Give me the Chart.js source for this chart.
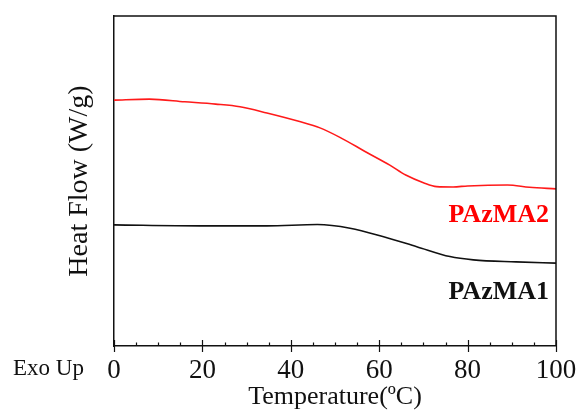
<!DOCTYPE html>
<html>
<head>
<meta charset="utf-8">
<script src="https://cdn.jsdelivr.net/npm/chart.js@4.4.1/dist/chart.umd.min.js"></script>
<style>
  html, body { margin: 0; padding: 0; background: #fff; }
  #wrap { width: 579px; height: 410px; position: relative; }
</style>
</head>
<body>
<div id="wrap"><canvas id="dsc"></canvas></div>
<script>
// ── Data ──────────────────────────────────────────────────────────────────
const TEMP_A = [0, 8, 16, 23, 28.5, 34.6, 42, 46.6, 51, 57, 62.4, 66, 70, 73, 76.7, 80, 89, 94, 100];
const PAZMA2 = [74.5, 74.8, 74.0, 73.3, 72.5, 70.6, 68.0, 66.1, 63.3, 58.8, 54.8, 51.8, 49.5, 48.3, 48.2, 48.5, 48.8, 48.1, 47.6];
const TEMP_B = [0, 19.5, 34.6, 46, 53.4, 61, 68.5, 76, 81.3, 91, 100];
const PAZMA1 = [36.7, 36.4, 36.4, 36.8, 35.7, 33.1, 30.1, 27.1, 26.1, 25.5, 25.1];
const X_TICKS = [0, 20, 40, 60, 80, 100];
const X_MINOR = [5, 10, 15, 25, 30, 35, 45, 50, 55, 65, 70, 75, 85, 90, 95];
const SERIES_NAMES = ["PAzMA2", "PAzMA1"];

const SERIF = '"Liberation Serif", "DejaVu Serif", serif';
const pts = (xs, ys) => xs.map((x, i) => ({ x, y: ys[i] }));

// ── Extras: closed frame, inward ticks, curve labels, "Exo Up" ────────────
const extras = {
  id: "extras",
  afterDraw(chart) {
    const { ctx, chartArea: a, scales } = chart;
    const xs = scales.x, ys = scales.y;
    ctx.save();
    ctx.strokeStyle = "#111";
    ctx.lineWidth = 1.5;
    ctx.beginPath();
    ctx.moveTo(a.left, a.top); ctx.lineTo(a.right, a.top); ctx.lineTo(a.right, a.bottom);
    ctx.stroke();
    ctx.lineWidth = 1.2;
    X_TICKS.forEach(v => {
      const px = Math.round(xs.getPixelForValue(v)) + 0.5;
      ctx.beginPath(); ctx.moveTo(px, a.bottom - 6); ctx.lineTo(px, a.bottom + 6); ctx.stroke();
    });
    X_MINOR.forEach(v => {
      const px = Math.round(xs.getPixelForValue(v)) + 0.5;
      ctx.beginPath(); ctx.moveTo(px, a.bottom - 3.5); ctx.lineTo(px, a.bottom); ctx.stroke();
    });
    ctx.font = "bold 26px " + SERIF;
    ctx.textAlign = "right";
    ctx.textBaseline = "middle";
    ctx.fillStyle = "#ff0000";
    ctx.fillText(SERIES_NAMES[0], a.right - 7, ys.getPixelForValue(39.7));
    ctx.fillStyle = "#111";
    ctx.fillText(SERIES_NAMES[1], a.right - 7, ys.getPixelForValue(16.4));
    ctx.font = "23px " + SERIF;
    ctx.textAlign = "left";
    ctx.fillStyle = "#111";
    ctx.fillText("Exo Up", 13, 369);
    ctx.restore();
  }
};

new Chart(document.getElementById("dsc"), {
  type: "line",
  data: {
    datasets: [
      { label: SERIES_NAMES[0], data: pts(TEMP_A, PAZMA2), borderColor: "#ff1a1a", borderWidth: 1.6, pointRadius: 0, cubicInterpolationMode: "monotone", fill: false },
      { label: SERIES_NAMES[1], data: pts(TEMP_B, PAZMA1), borderColor: "#111", borderWidth: 1.6, pointRadius: 0, cubicInterpolationMode: "monotone", fill: false }
    ]
  },
  options: {
    responsive: true, maintainAspectRatio: false, animation: false,
    layout: { padding: { left: 66, top: 16, right: 23, bottom: 0 } },
    plugins: { legend: { display: false }, tooltip: { enabled: false } },
    scales: {
      x: {
        type: "linear", min: 0, max: 100,
        grid: { display: false, drawTicks: false },
        border: { display: true, color: "#111", width: 1.5 },
        afterBuildTicks: s => { s.ticks = X_TICKS.map(v => ({ value: v })); },
        afterFit: s => { s.height = 64; s.paddingLeft = 0; s.paddingRight = 0; },
        ticks: { color: "#111", padding: 9, maxRotation: 0, font: { family: SERIF, size: 27 } },
        title: { display: true, text: "Temperature(ºC)", color: "#111", padding: 0, font: { family: SERIF, size: 26, lineHeight: 1 } }
      },
      y: {
        min: 0, max: 100,
        grid: { display: false, drawTicks: false },
        border: { display: true, color: "#111", width: 1.5 },
        ticks: { display: false },
        afterFit: s => { s.width = 48; },
        title: { display: true, text: "Heat Flow (W/g)", color: "#111", padding: 0, font: { family: SERIF, size: 28, lineHeight: 1 } }
      }
    }
  },
  plugins: [extras]
});
</script>
</body>
</html>
